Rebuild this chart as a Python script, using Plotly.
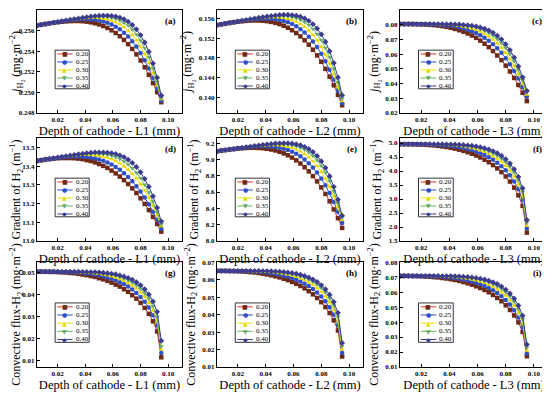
import plotly.graph_objects as go

# ---------------- data ----------------
depth = [0.005, 0.008, 0.011, 0.014, 0.017, 0.020, 0.023, 0.026, 0.029, 0.032, 0.035,
         0.038, 0.041, 0.044, 0.047, 0.050, 0.053, 0.056, 0.059, 0.062, 0.065, 0.068,
         0.071, 0.074, 0.077, 0.080, 0.083, 0.086, 0.089, 0.092, 0.095]
series_labels = ["0.20", "0.25", "0.30", "0.35", "0.40"]
x_tick_vals = [0.02, 0.04, 0.06, 0.08, 0.10]
x_tick_text = ["0.02", "0.04", "0.06", "0.08", "0.10"]

jh2_L1 = [
    [0.2565, 0.256568, 0.256635, 0.256698, 0.256758, 0.256812, 0.256858, 0.256895, 0.256921, 0.256934, 0.256931, 0.25691, 0.256869, 0.256804, 0.256713, 0.256595, 0.256443, 0.256257, 0.256032, 0.255766, 0.255455, 0.255096, 0.254684, 0.254216, 0.25369, 0.2531, 0.25244, 0.25171, 0.250904, 0.250021, 0.249049],
    [0.2565, 0.256569, 0.256638, 0.256706, 0.256772, 0.256837, 0.256898, 0.256954, 0.257004, 0.257046, 0.257077, 0.257096, 0.2571, 0.257084, 0.257046, 0.256984, 0.256891, 0.256762, 0.256595, 0.256384, 0.256122, 0.255803, 0.255423, 0.254972, 0.254445, 0.253835, 0.253129, 0.252324, 0.251407, 0.250374, 0.249209],
    [0.2565, 0.256569, 0.256639, 0.256708, 0.256776, 0.256844, 0.25691, 0.256974, 0.257035, 0.257092, 0.257142, 0.257183, 0.257215, 0.257232, 0.257232, 0.257212, 0.257165, 0.257087, 0.256972, 0.256814, 0.256603, 0.256333, 0.255994, 0.255576, 0.255069, 0.254458, 0.253728, 0.252869, 0.251864, 0.250699, 0.249349],
    [0.2565, 0.256569, 0.256639, 0.256708, 0.256777, 0.256846, 0.256914, 0.256982, 0.257048, 0.257112, 0.257172, 0.257228, 0.257278, 0.257318, 0.257346, 0.257359, 0.25735, 0.257316, 0.257249, 0.257143, 0.256987, 0.256772, 0.256484, 0.256111, 0.255638, 0.255045, 0.254308, 0.253411, 0.252326, 0.251028, 0.249479],
    [0.2565, 0.256569, 0.256639, 0.256708, 0.256777, 0.256847, 0.256916, 0.256984, 0.257052, 0.25712, 0.257185, 0.257247, 0.257307, 0.25736, 0.257406, 0.257441, 0.25746, 0.257459, 0.257431, 0.25737, 0.257263, 0.257101, 0.256868, 0.256549, 0.256123, 0.255567, 0.25485, 0.253946, 0.252814, 0.251417, 0.249699],
]
jh2_L2 = [
    [0.15464, 0.15479, 0.15493, 0.15507, 0.1552, 0.15531, 0.15541, 0.15549, 0.15555, 0.15558, 0.15557, 0.15552, 0.15543, 0.15529, 0.15509, 0.15483, 0.1545, 0.15409, 0.1536, 0.15302, 0.15234, 0.15156, 0.15066, 0.14964, 0.14849, 0.1472, 0.14576, 0.14417, 0.14242, 0.14049, 0.13837],
    [0.15464, 0.15479, 0.15494, 0.15509, 0.15523, 0.15537, 0.1555, 0.15562, 0.15573, 0.15582, 0.15589, 0.15593, 0.15594, 0.1559, 0.15582, 0.15568, 0.15548, 0.1552, 0.15484, 0.15438, 0.15381, 0.15312, 0.15229, 0.15131, 0.15017, 0.14884, 0.14731, 0.14556, 0.14357, 0.14133, 0.1388],
    [0.15464, 0.15479, 0.15494, 0.15509, 0.15524, 0.15538, 0.15553, 0.15567, 0.1558, 0.15592, 0.15603, 0.15612, 0.15619, 0.15623, 0.15623, 0.15618, 0.15608, 0.15591, 0.15567, 0.15532, 0.15487, 0.15429, 0.15355, 0.15265, 0.15156, 0.15024, 0.14866, 0.1468, 0.14463, 0.14212, 0.1392],
    [0.15464, 0.15479, 0.15494, 0.15509, 0.15524, 0.15539, 0.15554, 0.15568, 0.15583, 0.15597, 0.1561, 0.15622, 0.15633, 0.15641, 0.15647, 0.1565, 0.15649, 0.15642, 0.15628, 0.15605, 0.15572, 0.15526, 0.15465, 0.15385, 0.15285, 0.15158, 0.15001, 0.1481, 0.14578, 0.14301, 0.1397],
    [0.15464, 0.15479, 0.15494, 0.15509, 0.15524, 0.15539, 0.15554, 0.15569, 0.15584, 0.15598, 0.15612, 0.15626, 0.15639, 0.1565, 0.1566, 0.15668, 0.15673, 0.15673, 0.15667, 0.15655, 0.15633, 0.15599, 0.1555, 0.15483, 0.15394, 0.15276, 0.15126, 0.14935, 0.14697, 0.14402, 0.1404],
]
jh2_L3 = [
    [0.0805, 0.0805, 0.0805, 0.0805, 0.0804, 0.0803, 0.0802, 0.08, 0.0798, 0.0795, 0.0791, 0.0786, 0.078, 0.0772, 0.0763, 0.0753, 0.0741, 0.0727, 0.0711, 0.0692, 0.0671, 0.0648, 0.0621, 0.0591, 0.0559, 0.0522, 0.0482, 0.0438, 0.039, 0.0337, 0.028],
    [0.0805, 0.0805, 0.0805, 0.0805, 0.0805, 0.0804, 0.0804, 0.0803, 0.0802, 0.0801, 0.0799, 0.0796, 0.0793, 0.0788, 0.0783, 0.0776, 0.0767, 0.0757, 0.0744, 0.0729, 0.0712, 0.0691, 0.0668, 0.064, 0.0609, 0.0573, 0.0532, 0.0486, 0.0434, 0.0375, 0.031],
    [0.0805, 0.0805, 0.0805, 0.0805, 0.0805, 0.0805, 0.0805, 0.0804, 0.0804, 0.0803, 0.0802, 0.0801, 0.0799, 0.0796, 0.0793, 0.0788, 0.0782, 0.0774, 0.0765, 0.0753, 0.0738, 0.0721, 0.0699, 0.0674, 0.0644, 0.0609, 0.0567, 0.0519, 0.0463, 0.0399, 0.0325],
    [0.0805, 0.0805, 0.0805, 0.0805, 0.0805, 0.0805, 0.0805, 0.0805, 0.0805, 0.0804, 0.0804, 0.0803, 0.0802, 0.0801, 0.0799, 0.0796, 0.0792, 0.0787, 0.078, 0.0771, 0.0759, 0.0745, 0.0726, 0.0704, 0.0676, 0.0642, 0.0601, 0.0552, 0.0493, 0.0423, 0.034],
    [0.0805, 0.0805, 0.0805, 0.0805, 0.0805, 0.0805, 0.0805, 0.0805, 0.0805, 0.0805, 0.0805, 0.0804, 0.0804, 0.0803, 0.0802, 0.08, 0.0797, 0.0794, 0.0789, 0.0782, 0.0773, 0.0761, 0.0746, 0.0726, 0.0701, 0.0668, 0.0628, 0.0578, 0.0517, 0.0442, 0.035],
]
grad_L1 = [
    [13.428, 13.431, 13.435, 13.437, 13.44, 13.442, 13.443, 13.443, 13.443, 13.442, 13.44, 13.437, 13.432, 13.427, 13.42, 13.411, 13.401, 13.39, 13.376, 13.361, 13.344, 13.325, 13.304, 13.281, 13.256, 13.228, 13.198, 13.165, 13.129, 13.091, 13.05],
    [13.428, 13.432, 13.435, 13.438, 13.441, 13.444, 13.447, 13.449, 13.45, 13.451, 13.451, 13.45, 13.448, 13.445, 13.441, 13.435, 13.428, 13.419, 13.408, 13.395, 13.38, 13.362, 13.342, 13.319, 13.293, 13.264, 13.232, 13.196, 13.156, 13.113, 13.065],
    [13.428, 13.432, 13.435, 13.439, 13.442, 13.446, 13.449, 13.452, 13.454, 13.457, 13.458, 13.46, 13.46, 13.459, 13.458, 13.455, 13.451, 13.445, 13.437, 13.427, 13.414, 13.399, 13.381, 13.359, 13.334, 13.304, 13.27, 13.231, 13.187, 13.137, 13.08],
    [13.428, 13.432, 13.435, 13.439, 13.442, 13.446, 13.449, 13.453, 13.456, 13.459, 13.462, 13.464, 13.466, 13.467, 13.467, 13.466, 13.464, 13.461, 13.455, 13.448, 13.438, 13.425, 13.409, 13.389, 13.365, 13.336, 13.301, 13.259, 13.211, 13.155, 13.09],
    [13.428, 13.432, 13.435, 13.439, 13.442, 13.446, 13.45, 13.453, 13.457, 13.46, 13.463, 13.466, 13.469, 13.471, 13.473, 13.473, 13.473, 13.472, 13.469, 13.465, 13.457, 13.448, 13.434, 13.417, 13.395, 13.367, 13.332, 13.29, 13.239, 13.178, 13.105],
]
grad_L2 = [
    [9.1, 9.107, 9.114, 9.12, 9.126, 9.132, 9.136, 9.14, 9.142, 9.142, 9.14, 9.137, 9.13, 9.121, 9.109, 9.093, 9.074, 9.05, 9.022, 8.988, 8.949, 8.904, 8.853, 8.795, 8.73, 8.657, 8.576, 8.487, 8.387, 8.279, 8.16],
    [9.1, 9.107, 9.114, 9.121, 9.128, 9.135, 9.141, 9.147, 9.152, 9.156, 9.159, 9.16, 9.159, 9.157, 9.151, 9.143, 9.131, 9.115, 9.095, 9.069, 9.038, 8.999, 8.954, 8.9, 8.838, 8.766, 8.682, 8.587, 8.479, 8.357, 8.22],
    [9.1, 9.107, 9.114, 9.122, 9.129, 9.136, 9.143, 9.149, 9.155, 9.161, 9.166, 9.17, 9.173, 9.174, 9.174, 9.171, 9.164, 9.155, 9.141, 9.122, 9.097, 9.066, 9.026, 8.978, 8.919, 8.848, 8.764, 8.665, 8.549, 8.415, 8.26],
    [9.1, 9.107, 9.114, 9.122, 9.129, 9.136, 9.143, 9.15, 9.157, 9.164, 9.17, 9.175, 9.18, 9.184, 9.187, 9.188, 9.186, 9.182, 9.173, 9.161, 9.143, 9.118, 9.085, 9.042, 8.988, 8.921, 8.837, 8.735, 8.612, 8.465, 8.29],
    [9.1, 9.107, 9.114, 9.122, 9.129, 9.136, 9.143, 9.15, 9.157, 9.164, 9.171, 9.178, 9.184, 9.189, 9.194, 9.197, 9.198, 9.198, 9.194, 9.186, 9.173, 9.154, 9.127, 9.091, 9.042, 8.978, 8.896, 8.793, 8.664, 8.505, 8.31],
]
grad_L3 = [
    [4.96, 4.959, 4.958, 4.955, 4.951, 4.945, 4.937, 4.927, 4.915, 4.899, 4.88, 4.857, 4.83, 4.799, 4.763, 4.721, 4.673, 4.618, 4.556, 4.485, 4.405, 4.315, 4.212, 4.095, 3.961, 3.806, 3.624, 3.406, 3.132, 2.757, 1.8],
    [4.96, 4.96, 4.96, 4.959, 4.958, 4.956, 4.953, 4.948, 4.942, 4.934, 4.924, 4.911, 4.895, 4.875, 4.851, 4.821, 4.786, 4.745, 4.696, 4.639, 4.572, 4.495, 4.404, 4.297, 4.173, 4.025, 3.847, 3.63, 3.352, 2.964, 1.95],
    [4.96, 4.96, 4.96, 4.96, 4.959, 4.959, 4.958, 4.956, 4.953, 4.949, 4.944, 4.936, 4.927, 4.914, 4.898, 4.878, 4.853, 4.822, 4.784, 4.738, 4.683, 4.617, 4.537, 4.441, 4.326, 4.186, 4.014, 3.798, 3.517, 3.117, 2.05],
    [4.96, 4.96, 4.96, 4.96, 4.96, 4.96, 4.959, 4.958, 4.957, 4.955, 4.953, 4.949, 4.943, 4.935, 4.925, 4.911, 4.894, 4.871, 4.842, 4.806, 4.761, 4.706, 4.637, 4.552, 4.447, 4.317, 4.152, 3.943, 3.663, 3.257, 2.15],
    [4.96, 4.96, 4.96, 4.96, 4.96, 4.96, 4.96, 4.959, 4.959, 4.958, 4.957, 4.954, 4.951, 4.947, 4.94, 4.931, 4.919, 4.903, 4.881, 4.853, 4.817, 4.771, 4.713, 4.638, 4.544, 4.424, 4.269, 4.067, 3.792, 3.384, 2.25],
]
flux_L1 = [
    [0.0505, 0.0505, 0.0505, 0.0504, 0.0504, 0.0503, 0.0502, 0.0501, 0.0499, 0.0498, 0.0495, 0.0492, 0.0489, 0.0485, 0.0481, 0.0475, 0.047, 0.0463, 0.0455, 0.0446, 0.0437, 0.0425, 0.0413, 0.0398, 0.0382, 0.0363, 0.034, 0.0313, 0.0279, 0.0233, 0.0115],
    [0.0505, 0.0505, 0.0505, 0.0505, 0.0505, 0.0505, 0.0504, 0.0504, 0.0503, 0.0502, 0.0501, 0.0499, 0.0497, 0.0495, 0.0492, 0.0488, 0.0484, 0.0479, 0.0473, 0.0466, 0.0457, 0.0448, 0.0437, 0.0424, 0.0408, 0.039, 0.0368, 0.0342, 0.0307, 0.026, 0.0135],
    [0.0505, 0.0505, 0.0505, 0.0505, 0.0505, 0.0505, 0.0505, 0.0505, 0.0504, 0.0504, 0.0503, 0.0502, 0.0501, 0.0499, 0.0497, 0.0495, 0.0492, 0.0488, 0.0484, 0.0478, 0.0471, 0.0463, 0.0453, 0.0442, 0.0428, 0.0411, 0.039, 0.0363, 0.0329, 0.028, 0.015],
    [0.0505, 0.0505, 0.0505, 0.0505, 0.0505, 0.0505, 0.0505, 0.0505, 0.0505, 0.0504, 0.0504, 0.0504, 0.0503, 0.0502, 0.0501, 0.0499, 0.0497, 0.0494, 0.0491, 0.0486, 0.0481, 0.0474, 0.0466, 0.0456, 0.0443, 0.0427, 0.0407, 0.0382, 0.0348, 0.0299, 0.0165],
    [0.0505, 0.0505, 0.0505, 0.0505, 0.0505, 0.0505, 0.0505, 0.0505, 0.0505, 0.0505, 0.0505, 0.0504, 0.0504, 0.0503, 0.0503, 0.0502, 0.05, 0.0498, 0.0496, 0.0493, 0.0488, 0.0483, 0.0476, 0.0468, 0.0457, 0.0443, 0.0425, 0.0401, 0.0369, 0.0322, 0.019],
]
flux_L2 = [
    [0.065, 0.065, 0.065, 0.0649, 0.0649, 0.0648, 0.0647, 0.0645, 0.0643, 0.0641, 0.0638, 0.0634, 0.063, 0.0625, 0.0619, 0.0613, 0.0605, 0.0597, 0.0587, 0.0576, 0.0564, 0.055, 0.0534, 0.0516, 0.0495, 0.0471, 0.0443, 0.0409, 0.0367, 0.0309, 0.016],
    [0.065, 0.065, 0.065, 0.065, 0.065, 0.0649, 0.0649, 0.0648, 0.0647, 0.0646, 0.0644, 0.0642, 0.064, 0.0637, 0.0633, 0.0628, 0.0623, 0.0616, 0.0609, 0.06, 0.059, 0.0577, 0.0563, 0.0547, 0.0527, 0.0504, 0.0476, 0.0442, 0.0399, 0.0338, 0.018],
    [0.065, 0.065, 0.065, 0.065, 0.065, 0.065, 0.065, 0.0649, 0.0649, 0.0648, 0.0648, 0.0646, 0.0645, 0.0643, 0.064, 0.0637, 0.0633, 0.0629, 0.0623, 0.0616, 0.0607, 0.0597, 0.0585, 0.057, 0.0552, 0.053, 0.0504, 0.047, 0.0427, 0.0365, 0.02],
    [0.065, 0.065, 0.065, 0.065, 0.065, 0.065, 0.065, 0.065, 0.065, 0.0649, 0.0649, 0.0648, 0.0647, 0.0646, 0.0645, 0.0643, 0.064, 0.0636, 0.0632, 0.0627, 0.062, 0.0611, 0.0601, 0.0588, 0.0572, 0.0552, 0.0526, 0.0494, 0.0452, 0.0389, 0.022],
    [0.065, 0.065, 0.065, 0.065, 0.065, 0.065, 0.065, 0.065, 0.065, 0.065, 0.065, 0.0649, 0.0649, 0.0648, 0.0647, 0.0646, 0.0644, 0.0641, 0.0638, 0.0634, 0.0628, 0.0621, 0.0612, 0.0601, 0.0587, 0.0569, 0.0545, 0.0514, 0.0472, 0.041, 0.0238],
]
flux_L3 = [
    [0.0708, 0.0708, 0.0708, 0.0707, 0.0707, 0.0706, 0.0704, 0.0703, 0.07, 0.0698, 0.0694, 0.0691, 0.0686, 0.0681, 0.0675, 0.0667, 0.0659, 0.065, 0.0639, 0.0627, 0.0614, 0.0599, 0.0581, 0.0561, 0.0539, 0.0512, 0.0481, 0.0444, 0.0398, 0.0334, 0.0172],
    [0.0708, 0.0708, 0.0708, 0.0708, 0.0708, 0.0707, 0.0707, 0.0706, 0.0705, 0.0704, 0.0702, 0.07, 0.0697, 0.0693, 0.0689, 0.0684, 0.0678, 0.0671, 0.0663, 0.0653, 0.0641, 0.0628, 0.0612, 0.0594, 0.0573, 0.0547, 0.0517, 0.0479, 0.0431, 0.0365, 0.019],
    [0.0708, 0.0708, 0.0708, 0.0708, 0.0708, 0.0708, 0.0708, 0.0707, 0.0707, 0.0706, 0.0705, 0.0704, 0.0702, 0.07, 0.0697, 0.0694, 0.069, 0.0684, 0.0678, 0.067, 0.0661, 0.0649, 0.0636, 0.0619, 0.0599, 0.0576, 0.0546, 0.0509, 0.0461, 0.0393, 0.021],
    [0.0708, 0.0708, 0.0708, 0.0708, 0.0708, 0.0708, 0.0708, 0.0708, 0.0708, 0.0707, 0.0707, 0.0706, 0.0705, 0.0704, 0.0702, 0.07, 0.0697, 0.0693, 0.0688, 0.0682, 0.0674, 0.0665, 0.0653, 0.0639, 0.0621, 0.0599, 0.0571, 0.0535, 0.0487, 0.0418, 0.023],
    [0.0708, 0.0708, 0.0708, 0.0708, 0.0708, 0.0708, 0.0708, 0.0708, 0.0708, 0.0708, 0.0707, 0.0707, 0.0707, 0.0706, 0.0705, 0.0703, 0.0701, 0.0698, 0.0695, 0.069, 0.0684, 0.0676, 0.0666, 0.0654, 0.0638, 0.0617, 0.0591, 0.0557, 0.0511, 0.0442, 0.025],
]

panel_data = [jh2_L1, jh2_L2, jh2_L3, grad_L1, grad_L2, grad_L3, flux_L1, flux_L2, flux_L3]
panel_tags = ["(a)", "(b)", "(c)", "(d)", "(e)", "(f)", "(g)", "(h)", "(i)"]
x_titles = ["Depth of cathode - L1 (mm)", "Depth of cathode - L2 (mm)", "Depth of cathode - L3 (mm)"] * 3
y_title_rows = ["<i>j</i><sub>H₂</sub> (mg·m<sup>−2</sup>)",
                "Gradient of H<sub>2</sub> (m<sup>−1</sup>)",
                "Convective flux-H<sub>2</sub> (mg·m<sup>−2</sup>)"]
y_ranges = [[0.248, 0.258], [0.1368, 0.1577], [0.0199, 0.0901],
            [13.0, 13.55], [8.0, 9.262], [1.5, 5.18],
            [0.0071, 0.0549], [0.01, 0.0701], [0.01, 0.0801]]
y_dticks = [0.002, 0.004, 0.01, 0.1, 0.2, 0.5, 0.01, 0.01, 0.01]
y_formats = [".3f", ".3f", ".2f", ".1f", ".1f", ".1f", ".2f", ".2f", ".2f"]

# ---------------- styles ----------------
line_colors = ["#e0302a", "#2f4fc8", "#eee000", "#5cb85c", "#3d3d8f"]
marker_colors = ["#6e2a14", "#2f4fc8", "#e6d800", "#6aa86a", "#3d3d8f"]
symbols = ["square", "circle", "triangle-up", "triangle-down", "diamond"]
glyphs = ["■", "●", "▲", "▼", "◆"]

# the page adds an 8 px body margin, so the figure is drawn 8 px smaller and
# all page positions are shifted by 8 px
OFF = 8
W, H = 550 - OFF, 396 - OFF
col_px = [(37, 182), (217, 363), (400, 548)]
row_px = [(10, 113), (138, 241), (262, 367)]
SERIF = "Liberation Serif"
XTITLE_SIZE = 12.5
YTITLE_SIZE = 12

fig = go.Figure()
layout = dict(width=W, height=H, margin=dict(l=0, r=0, t=0, b=0, autoexpand=False),
              paper_bgcolor="white", plot_bgcolor="white", showlegend=False)
shapes, annotations = [], []

for k, vals in enumerate(panel_data):
    r, c = divmod(k, 3)
    sfx = "" if k == 0 else str(k + 1)
    xa, ya = "x" + sfx, "y" + sfx
    for j in range(5):
        fig.add_trace(go.Scatter(
            x=depth, y=vals[j], mode="lines+markers", name=series_labels[j],
            xaxis=xa, yaxis=ya, showlegend=False,
            line=dict(color=line_colors[j], width=1),
            marker=dict(symbol=symbols[j], size=4.5, color=marker_colors[j], line=dict(width=0))))
    common = dict(showline=True, linecolor="black", linewidth=1, mirror=True,
                  ticks="inside", ticklen=3, tickwidth=1, tickcolor="black",
                  showgrid=False, zeroline=False, automargin=False,
                  tickfont=dict(family=SERIF, size=7, color="black", weight="bold"))
    x0p, x1p = col_px[c][0] - OFF, col_px[c][1] - OFF
    y0p, y1p = row_px[r][0] - OFF, row_px[r][1] - OFF
    layout["xaxis" + sfx] = dict(
        common, domain=[x0p / W, x1p / W], anchor=ya,
        range=[0.005, 0.11], tickvals=x_tick_vals, ticktext=x_tick_text,
        title=dict(text=x_titles[k], font=dict(family=SERIF, size=XTITLE_SIZE, color="black"), standoff=0))
    layout["yaxis" + sfx] = dict(
        common, domain=[1 - y1p / H, 1 - y0p / H], anchor=xa,
        range=y_ranges[k], dtick=y_dticks[k], tickformat=y_formats[k],
        title=dict(text=y_title_rows[r], font=dict(family=SERIF, size=YTITLE_SIZE, color="black"), standoff=4))

    xref = xa + " domain"
    yref = ya + " domain"
    annotations.append(dict(x=0.97, y=0.96, xref=xref, yref=yref, text="<b>%s</b>" % panel_tags[k],
                            showarrow=False, xanchor="right", yanchor="top",
                            font=dict(family=SERIF, size=9, color="black")))
    # legend box
    shapes.append(dict(type="rect", xref=xref, yref=yref, x0=0.125, x1=0.36, y0=0.235, y1=0.61,
                       line=dict(color="black", width=0.8), fillcolor="rgba(255,255,255,0)"))
    for j in range(5):
        yc = 0.573 - j * 0.0777
        shapes.append(dict(type="line", xref=xref, yref=yref, x0=0.14, x1=0.245, y0=yc, y1=yc,
                           line=dict(color=line_colors[j], width=1)))
        annotations.append(dict(x=0.1925, y=yc, xref=xref, yref=yref, text=glyphs[j], showarrow=False,
                                xanchor="center", yanchor="middle", borderpad=0,
                                font=dict(family="DejaVu Sans", size=6, color=marker_colors[j])))
        annotations.append(dict(x=0.26, y=yc, xref=xref, yref=yref, text=series_labels[j], showarrow=False,
                                xanchor="left", yanchor="middle", borderpad=0,
                                font=dict(family=SERIF, size=7, color="black")))

layout["shapes"] = shapes
layout["annotations"] = annotations
fig.update_layout(**layout)
fig.write_html("out.html")
